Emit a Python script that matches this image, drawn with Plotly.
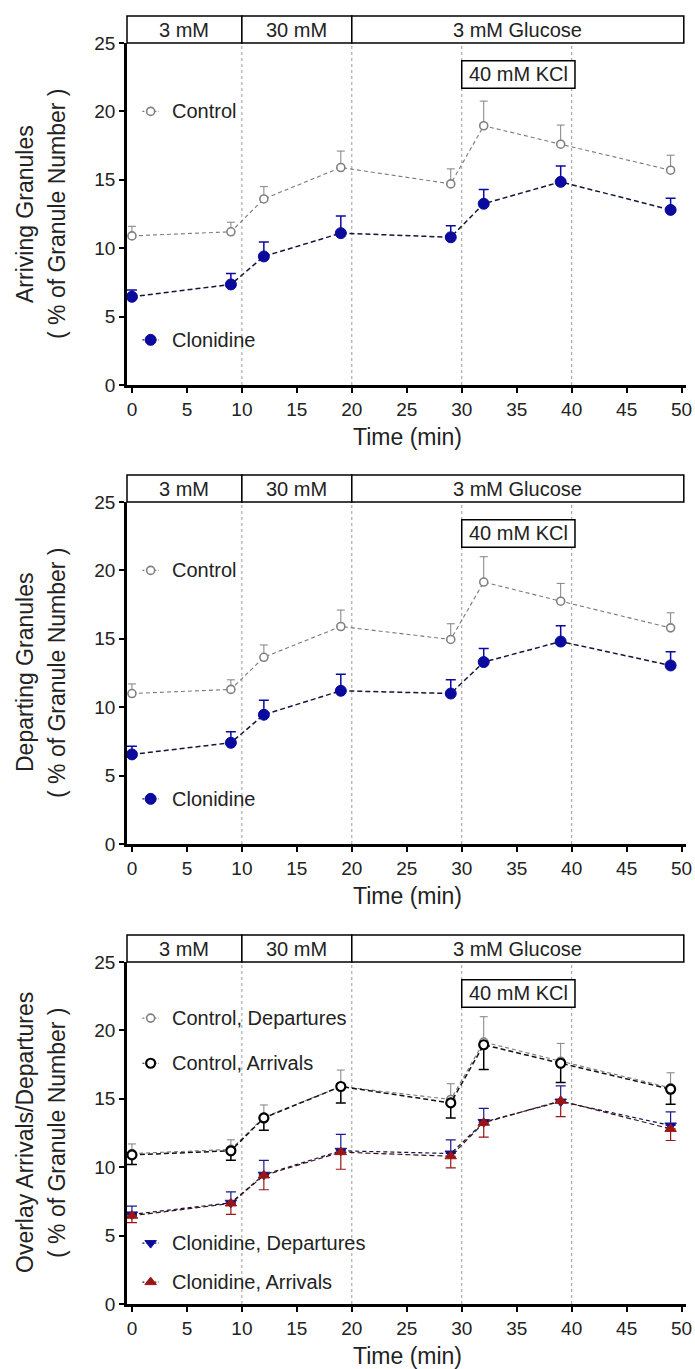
import plotly.graph_objects as go

# ---------------- data ----------------
time_min = [0, 9, 12, 19, 29, 32, 39, 49]

ctrl_arr = [10.9, 11.2, 13.6, 15.9, 14.7, 18.95, 17.6, 15.7]
ctrl_arr_sem = [0.7, 0.7, 0.9, 1.2, 1.1, 1.8, 1.4, 1.1]
clon_arr = [6.45, 7.35, 9.4, 11.1, 10.8, 13.25, 14.85, 12.8]
clon_arr_sem = [0.5, 0.8, 1.05, 1.25, 0.85, 1.05, 1.15, 0.85]

ctrl_dep = [11.0, 11.3, 13.65, 15.9, 14.95, 19.15, 17.75, 15.8]
ctrl_dep_sem = [0.7, 0.7, 0.9, 1.2, 1.15, 1.85, 1.3, 1.1]
clon_dep = [6.55, 7.4, 9.45, 11.2, 11.0, 13.3, 14.8, 13.05]
clon_dep_sem = [0.6, 0.8, 1.05, 1.2, 1.0, 1.0, 1.15, 1.0]

phase_edges = [0, 10, 20, 50]
phase_labels = ["3 mM", "30 mM", "3 mM Glucose"]
kcl_span = [30, 40.3]
kcl_label = "40 mM KCl"
guide_times = [10, 20, 30, 40]
x_ticks = list(range(0, 51, 5))
y_ticks = [0, 5, 10, 15, 20, 25]

panel_titles = [
    ("Arriving Granules", "( % of Granule Number )"),
    ("Departing Granules", "( % of Granule Number )"),
    ("Overlay Arrivals/Departures", "( % of Granule Number )"),
]
x_title = "Time (min)"

# ---------------- layout geometry / style ----------------
W, H = 695, 1369
L, R = 127, 9
PW = W - L - R
panel_top_px = [43, 502, 962]      # pixel y of value 25
panel_bot_px = [385, 844, 1304]    # pixel y of value 0
XMIN, XMAX = -0.45, 50.4
YMAX = 25
FONT = "Liberation Sans, Arial, sans-serif"
TXT = "#222222"
GRAY = "#808080"
BLUE = "#0a0a9e"
RED = "#9c1515"
TICK_FS, HDR_FS, LEG_FS, XT_FS, YT_FS = 19, 20, 20, 23, 23

def xfrac(x):
    return (x - XMIN) / (XMAX - XMIN)

def px_to_xpaper(px):
    return (px - L) / PW

fig = go.Figure()

def add_series(i, y, sem, up, name, color, symbol, size, mline, lcolor, ldash, lwidth, fill, ebw, ebt):
    sfx = "" if i == 0 else str(i + 1)
    err = dict(type="data", symmetric=False, color=color, thickness=ebt, width=ebw)
    if up:
        err.update(array=sem, arrayminus=[0] * len(sem))
    else:
        err.update(array=[0] * len(sem), arrayminus=sem)
    fig.add_trace(go.Scatter(
        x=time_min, y=y, mode="lines+markers", name=name, showlegend=False,
        xaxis="x" + sfx, yaxis="y" + sfx,
        line=dict(color=lcolor, dash=ldash, width=lwidth),
        marker=dict(symbol=symbol, size=size, color=fill,
                    line=dict(color=color, width=mline)),
        error_y=err, cliponaxis=False,
    ))

def add_key(i, xk, yk, label, color, symbol, size, mline, lcolor, fill):
    sfx = "" if i == 0 else str(i + 1)
    fig.add_trace(go.Scatter(
        x=[xk - 0.75, xk + 0.75], y=[yk, yk], mode="lines",
        showlegend=False, hoverinfo="skip",
        xaxis="x" + sfx, yaxis="y" + sfx,
        line=dict(color=lcolor, dash="2px,2px", width=1.2),
        cliponaxis=False,
    ))
    fig.add_trace(go.Scatter(
        x=[xk], y=[yk], mode="markers",
        showlegend=False, hoverinfo="skip",
        xaxis="x" + sfx, yaxis="y" + sfx,
        marker=dict(symbol=symbol, size=size, color=fill, opacity=1,
                    line=dict(color=color, width=mline)),
        cliponaxis=False,
    ))
    fig.add_annotation(x=xk + 1.8, y=yk, xref="x" + sfx, yref="y" + sfx,
                       text=label, showarrow=False, xanchor="left", yanchor="middle",
                       font=dict(size=LEG_FS, color=TXT, family=FONT))

# Panel 1: arrivals
add_series(0, ctrl_arr, ctrl_arr_sem, True, "Control", GRAY, "circle", 8, 1.6, "#7a7a7a", "4px,3px", 1.1, "white", 4, 1)
add_series(0, clon_arr, clon_arr_sem, True, "Clonidine", BLUE, "circle", 11, 1, "#15153a", "5px,3px", 1.5, BLUE, 5, 1.5)
add_key(0, 1.7, 20.0, "Control", GRAY, "circle", 8, 1.6, "#7a7a7a", "white")
add_key(0, 1.7, 3.3, "Clonidine", BLUE, "circle", 11, 1, "#15153a", BLUE)

# Panel 2: departures
add_series(1, ctrl_dep, ctrl_dep_sem, True, "Control", GRAY, "circle", 8, 1.6, "#7a7a7a", "4px,3px", 1.1, "white", 4, 1)
add_series(1, clon_dep, clon_dep_sem, True, "Clonidine", BLUE, "circle", 11, 1, "#15153a", "5px,3px", 1.5, BLUE, 5, 1.5)
add_key(1, 1.7, 20.0, "Control", GRAY, "circle", 8, 1.6, "#7a7a7a", "white")
add_key(1, 1.7, 3.3, "Clonidine", BLUE, "circle", 11, 1, "#15153a", BLUE)

# Panel 3: overlay
add_series(2, ctrl_dep, ctrl_dep_sem, True, "Control, Departures", GRAY, "circle", 8, 1.6, "#7a7a7a", "4px,3px", 1.1, "white", 4, 1)
add_series(2, ctrl_arr, ctrl_arr_sem, False, "Control, Arrivals", "#000000", "circle", 9, 2.2, "#111111", "5px,3px", 1.5, "white", 5, 1.5)
add_series(2, clon_dep, clon_dep_sem, True, "Clonidine, Departures", "#1a1a8a", "triangle-down", 10, 1, "#10104a", "4px,3px", 1.2, BLUE, 5, 1.2)
add_series(2, clon_arr, clon_arr_sem, False, "Clonidine, Arrivals", RED, "triangle-up", 10, 1, "#3a1010", "5px,3px", 1.2, RED, 5, 1.2)
add_key(2, 1.7, 20.9, "Control, Departures", GRAY, "circle", 8, 1.6, "#7a7a7a", "white")
add_key(2, 1.7, 17.6, "Control, Arrivals", "#000000", "circle", 9, 2.2, "#111111", "white")
add_key(2, 1.7, 4.45, "Clonidine, Departures", BLUE, "triangle-down", 10, 1, "#10104a", BLUE)
add_key(2, 1.7, 1.6, "Clonidine, Arrivals", RED, "triangle-up", 10, 1, "#3a1010", RED)

layout = dict(
    width=W, height=H, margin=dict(l=L, r=R, t=0, b=0, autoexpand=False),
    paper_bgcolor="white", plot_bgcolor="white", showlegend=False,
    font=dict(family=FONT, color=TXT),
)
shapes = []
annotations = list(fig.layout.annotations)
for i in range(3):
    sfx = "" if i == 0 else str(i + 1)
    dom = [1 - panel_bot_px[i] / H, 1 - panel_top_px[i] / H]
    axis_common = dict(showline=True, linecolor="black", linewidth=2.5, ticks="outside",
                       ticklen=5, tickwidth=2, tickcolor="black", showgrid=False, zeroline=False,
                       automargin=False,
                       tickfont=dict(size=TICK_FS, color=TXT, family=FONT))
    layout["xaxis" + sfx] = dict(axis_common, domain=[0, 1], anchor="y" + sfx,
                                 range=[XMIN, XMAX], tickvals=x_ticks)
    layout["yaxis" + sfx] = dict(axis_common, domain=dom, anchor="x" + sfx,
                                 range=[0, YMAX], tickvals=y_ticks)
    xr, yr = "x" + sfx, "y" + sfx
    xd, yd = "x" + sfx + " domain", "y" + sfx + " domain"
    pxh = panel_bot_px[i] - panel_top_px[i]
    hdr_top = 1 + 27 / pxh
    # guide lines
    for t in guide_times:
        shapes.append(dict(type="line", xref=xr, yref=yr, x0=t, x1=t, y0=0, y1=YMAX,
                           line=dict(color="#9a9a9a", width=1, dash="3px,3px"), layer="below"))
    # header boxes (first box starts at the y axis, last one ends near the right end)
    for k, lab in enumerate(phase_labels):
        a, b = phase_edges[k], phase_edges[k + 1]
        fa = 0.0 if k == 0 else xfrac(a)
        fb = xfrac(b + 0.2) if k == len(phase_labels) - 1 else xfrac(b)
        shapes.append(dict(type="rect", xref=xd, yref=yd, x0=fa, x1=fb,
                           y0=1.0, y1=hdr_top, line=dict(color="black", width=1.5),
                           fillcolor="white"))
        annotations.append(dict(x=(fa + fb) / 2, y=(1 + hdr_top) / 2, xref=xd, yref=yd,
                                text=lab, showarrow=False, xanchor="center", yanchor="middle",
                                font=dict(size=HDR_FS, color=TXT, family=FONT)))
    # KCl box
    shapes.append(dict(type="rect", xref=xr, yref=yr, x0=kcl_span[0], x1=kcl_span[1],
                       y0=21.7, y1=23.7, line=dict(color="black", width=1.5), fillcolor="white"))
    annotations.append(dict(x=sum(kcl_span) / 2, y=22.7, xref=xr, yref=yr, text=kcl_label,
                            showarrow=False, font=dict(size=HDR_FS, color=TXT, family=FONT)))
    # axis titles
    ymid = 1 - (panel_top_px[i] + panel_bot_px[i]) / 2 / H
    annotations.append(dict(x=px_to_xpaper(25), y=ymid, xref="paper", yref="paper",
                            text=panel_titles[i][0], textangle=-90, showarrow=False,
                            xanchor="center", yanchor="middle",
                            font=dict(size=YT_FS, color=TXT, family=FONT)))
    annotations.append(dict(x=px_to_xpaper(57), y=ymid, xref="paper", yref="paper",
                            text=panel_titles[i][1], textangle=-90, showarrow=False,
                            xanchor="center", yanchor="middle",
                            font=dict(size=YT_FS, color=TXT, family=FONT)))
    annotations.append(dict(x=px_to_xpaper(407), y=1 - (panel_bot_px[i] + 52) / H,
                            xref="paper", yref="paper", text=x_title, showarrow=False,
                            xanchor="center", yanchor="middle",
                            font=dict(size=XT_FS, color=TXT, family=FONT)))

layout["shapes"] = shapes
layout["annotations"] = annotations
fig.update_layout(**layout)
fig.write_html(
    "out.html",
    config={"displayModeBar": False},
    post_script="document.body.style.margin='0';document.body.style.overflow='hidden';",
)
